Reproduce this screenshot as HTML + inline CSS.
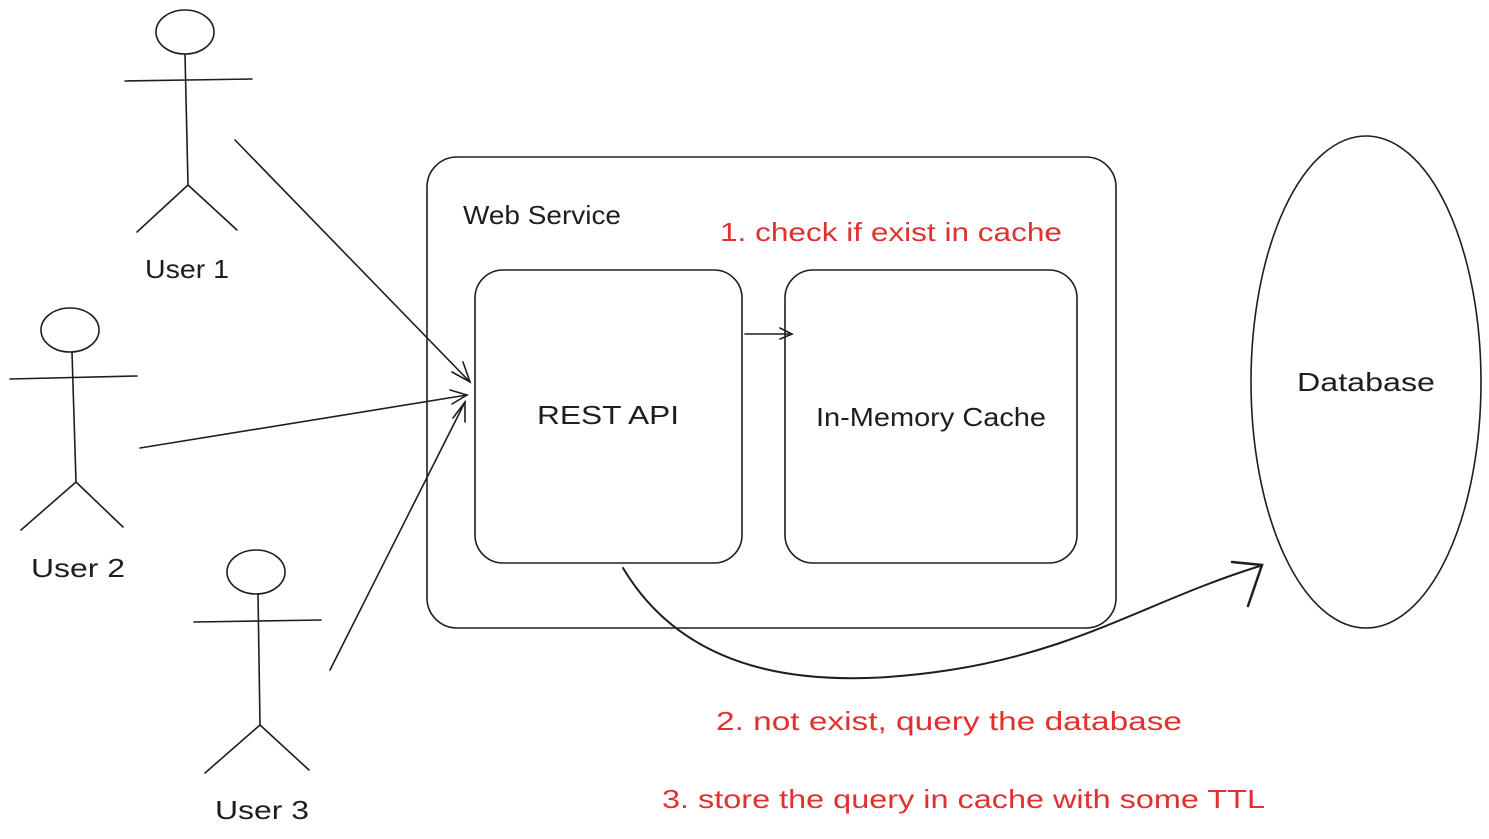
<!DOCTYPE html>
<html><head><meta charset="utf-8"><style>
html,body{margin:0;padding:0;background:#fff;}
svg{display:block;}
text{font-family:"Liberation Sans",sans-serif;font-size:26px;}
</style></head><body>
<svg width="1489" height="839" viewBox="0 0 1489 839" xmlns="http://www.w3.org/2000/svg">
<g fill="none" stroke="#1e1e1e" stroke-width="1.6" stroke-linecap="round">
<!-- User 1 -->
<ellipse cx="185" cy="32" rx="29" ry="22"/>
<line x1="125" y1="81" x2="252" y2="79"/>
<line x1="185" y1="54" x2="188" y2="185"/>
<line x1="188" y1="185" x2="137" y2="232"/>
<line x1="188" y1="185" x2="237" y2="230"/>
<!-- User 2 -->
<ellipse cx="70" cy="330" rx="29" ry="22"/>
<line x1="10" y1="379" x2="137" y2="376"/>
<line x1="72" y1="352" x2="76" y2="482"/>
<line x1="76" y1="482" x2="21" y2="530"/>
<line x1="76" y1="482" x2="123" y2="527"/>
<!-- User 3 -->
<ellipse cx="256" cy="572" rx="29" ry="22"/>
<line x1="194" y1="622" x2="321" y2="620"/>
<line x1="258" y1="594" x2="260" y2="725"/>
<line x1="260" y1="725" x2="205" y2="773"/>
<line x1="260" y1="725" x2="309" y2="770"/>
<!-- boxes -->
<rect x="427" y="157" width="689" height="471" rx="30"/>
<rect x="475" y="270" width="267" height="293" rx="28"/>
<rect x="785" y="270" width="292" height="293" rx="28"/>
<!-- arrow rest->cache -->
<line x1="745" y1="334" x2="792" y2="334"/>
<path d="M780 328 L792 334 L780 339"/>
<!-- database -->
<ellipse cx="1366" cy="382" rx="115" ry="246"/>
<!-- user arrows -->
<line x1="235" y1="140" x2="470" y2="382"/>
<path d="M452 372 L470 382 L463 362"/>
<line x1="140" y1="448" x2="467" y2="395"/>
<path d="M450 390 L467 395 L452 404"/>
<line x1="330" y1="670" x2="465" y2="402"/>
<path d="M453 418 L465 402 L465 422"/>
<!-- curve -->
<path d="M623 568 C690 680 820 690 950 670 C1080 650 1150 600 1260 566" stroke-width="2"/>
<path d="M1232 562 L1262 565 L1248 606" stroke-width="2.5"/>
</g>
<g fill="#1e1e1e">
<text x="187" y="278" text-anchor="middle" textLength="84" lengthAdjust="spacingAndGlyphs">User 1</text>
<text x="78" y="577" text-anchor="middle" textLength="94" lengthAdjust="spacingAndGlyphs">User 2</text>
<text x="262" y="819" text-anchor="middle" textLength="94" lengthAdjust="spacingAndGlyphs">User 3</text>
<text x="463" y="224" textLength="158" lengthAdjust="spacingAndGlyphs">Web Service</text>
<text x="608" y="424" text-anchor="middle" textLength="142" lengthAdjust="spacingAndGlyphs">REST API</text>
<text x="931" y="426" text-anchor="middle" textLength="230" lengthAdjust="spacingAndGlyphs">In-Memory Cache</text>
<text x="1366" y="391" text-anchor="middle" textLength="138" lengthAdjust="spacingAndGlyphs">Database</text>
</g>
<g fill="#e03131">
<text x="720" y="241" textLength="342" lengthAdjust="spacingAndGlyphs">1. check if exist in cache</text>
<text x="716" y="730" textLength="466" lengthAdjust="spacingAndGlyphs">2. not exist, query the database</text>
<text x="662" y="808" textLength="603" lengthAdjust="spacingAndGlyphs">3. store the query in cache with some TTL</text>
</g>
</svg>
</body></html>
